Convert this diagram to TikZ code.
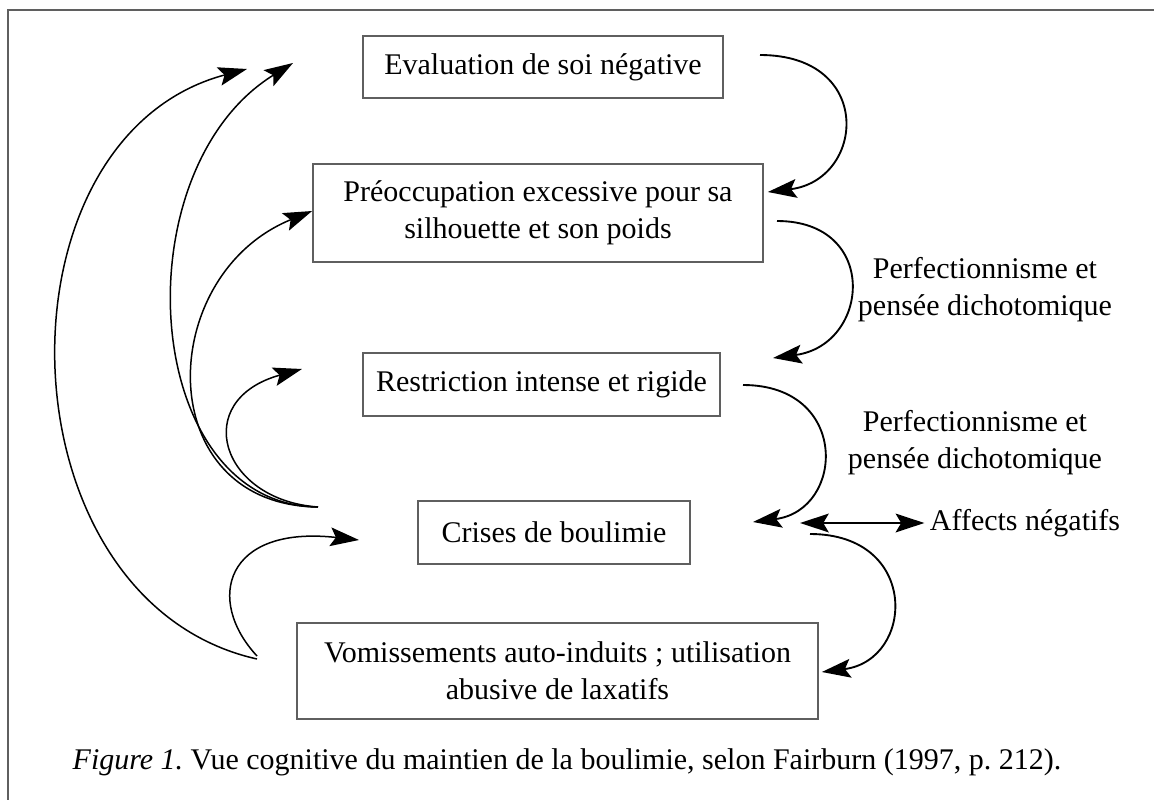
\documentclass[tikz,border=0pt]{standalone}
\usepackage{fontspec}
\setmainfont{Liberation Serif}
\usetikzlibrary{arrows.meta,calc}
\definecolor{cadreCol}{RGB}{95,95,95}
\tikzset{
  pointe/.tip={Stealth[length=11.5pt,width=7.5pt,inset=2.2pt]},
  boite/.style={draw=cadreCol,line width=0.7pt,align=center,inner sep=2pt,
                font=\fontsize{12}{14.8}\selectfont},
  lien/.style={-pointe,line width=0.75pt},
  retour/.style={lien,line width=0.6pt},
  lab/.style={align=center,inner sep=2pt,font=\fontsize{12}{14.8}\selectfont},
}

\begin{document}
\begin{tikzpicture}[x=0.4pt,y=-0.4pt]
    \useasboundingbox (0,0) rectangle (1154,800);
    \draw[cadreCol,line width=0.8pt] (8,10) rectangle (1170,820);
    % --- boxes ---
    \node[boite,minimum width=144pt,minimum height=24.8pt] (eval) at (543,67) {Evaluation de soi négative};
    \node[boite,minimum width=180pt,minimum height=39.2pt] (preoc) at (538,213)
        {Préoccupation excessive pour sa\\silhouette et son poids};
    \node[boite,minimum width=142.8pt,minimum height=25.2pt] (restr) at (541.5,384.5) {Restriction intense et rigide};
    \node[boite,minimum width=108.8pt,minimum height=25.2pt] (crises) at (554,532.5) {Crises de boulimie};
    \node[boite,minimum width=208.4pt,minimum height=38.4pt] (vomis) at (557.5,671)
        {Vomissements auto-induits ; utilisation\\abusive de laxatifs};
    % --- labels ---
    \node[lab] (perf1) at (985,290) {Perfectionnisme et\\pensée dichotomique};
    \node[lab] (perf2) at (975,443) {Perfectionnisme et\\pensée dichotomique};
    \node[lab] (affects) at (1025,523) {Affects négatifs};
    \node[lab] (legende) at (567,762) {\textit{Figure 1.}\ Vue cognitive du maintien de la boulimie, selon Fairburn (1997, p.~212).};
    % --- free ends ---
    \coordinate (e1) at (760,55);
    \coordinate (p2) at (777,221);
    \coordinate (p3) at (773,358);
    \coordinate (r1) at (743,385);
    \coordinate (c1) at (753,522);
    \coordinate (c2) at (800,523);
    \coordinate (c3) at (810,534);
    \coordinate (cg) at (318,507);
    \coordinate (cb) at (359,540);
    \coordinate (ve) at (257,659);
    \coordinate (eg1) at (247,69);
    \coordinate (eg2) at (293,63);
    \coordinate (rg) at (302,369);
    % --- right chain ---
    \draw[lien] (e1) .. controls (875,55) and (865,180) .. ($(preoc.east)+(4,-21)$);
    \draw[lien] (p2) .. controls (880,221) and (870,345) .. (p3);
    \draw[lien] (r1) .. controls (850,385) and (845,510) .. (c1);
    \draw[pointe-pointe,line width=0.75pt] (c2) -- (affects.west);
    \draw[lien] (c3) .. controls (920,534) and (915,660) .. ($(vomis.east)+(3,1)$);
    % --- left loops ---
    \draw[retour] (ve) .. controls (-2,601) and (-12,138) .. (eg1);
    \draw[retour] (cg) .. controls (140,505) and (120,170) .. (eg2);
    \draw[retour] (cg) .. controls (150,505) and (155,275) .. ($(preoc.west)+(0,-2)$);
    \draw[retour] (cg) .. controls (220,500) and (190,400) .. (rg);
    \draw[retour] ($(ve)+(0,-3)$) .. controls (205,600) and (225,525) .. (cb);
\end{tikzpicture}
\end{document}
